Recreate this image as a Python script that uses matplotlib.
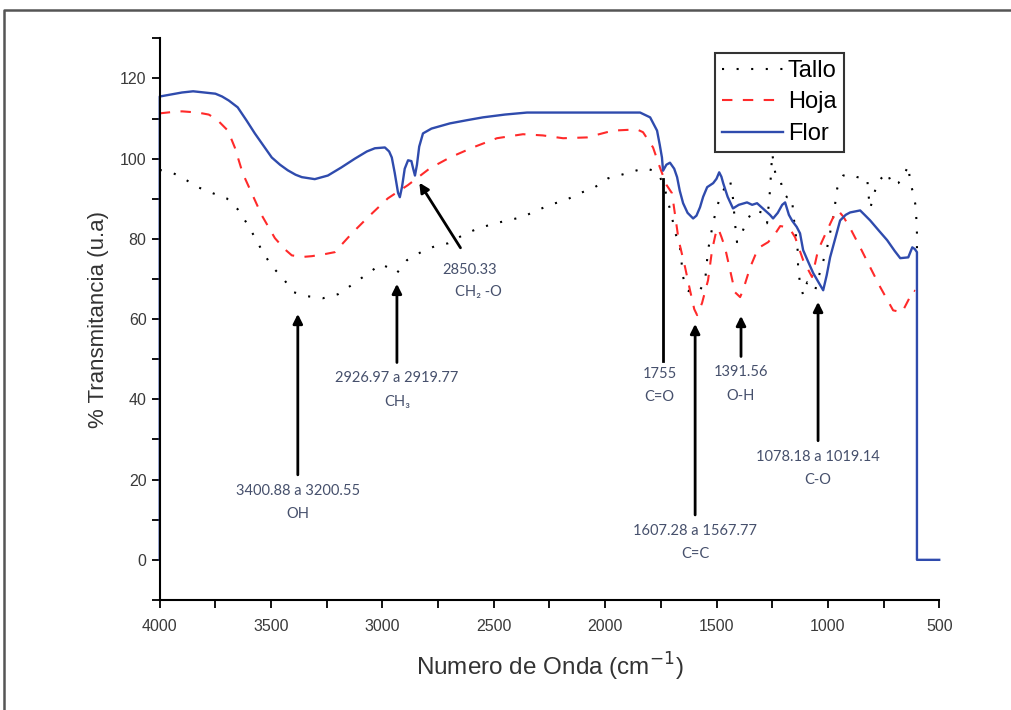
import numpy as np
import matplotlib
matplotlib.use("Agg")
import matplotlib.pyplot as plt
from matplotlib.ticker import MultipleLocator
from matplotlib.lines import Line2D

plt.rcParams['font.family'] = ['Liberation Sans', 'DejaVu Sans']

flor_x = [4000, 4000, 3950, 3900, 3850, 3800, 3750, 3720, 3690, 3650, 3610, 3573, 3535, 3497, 3460,
          3425, 3390, 3362, 3304, 3245, 3185, 3124, 3070, 3034, 2989, 2970, 2958, 2945, 2930, 2922,
          2912, 2900, 2885, 2870, 2862, 2854, 2845, 2835, 2818, 2780, 2697, 2620, 2549, 2450, 2351,
          2200, 2000, 1843, 1798, 1767, 1755, 1745, 1740, 1725, 1709, 1690, 1677, 1665, 1650, 1630,
          1605, 1590, 1574, 1560, 1542, 1515, 1500, 1488, 1478, 1470, 1450, 1426, 1400, 1363, 1340,
          1318, 1290, 1260, 1246, 1225, 1205, 1192, 1175, 1160, 1140, 1125, 1111, 1090, 1066, 1040,
          1021, 1005, 990, 965, 945, 920, 900, 855, 835, 810, 770, 734, 700, 675, 639, 621, 610, 600,
          600, 500]
flor_y = [0, 115.5, 116, 116.5, 116.8, 116.5, 116.2, 115.5, 114.5, 112.8, 109.5, 106.3, 103.3, 100.3, 98.5,
          97.1, 96, 95.4, 94.9, 95.8, 97.8, 100, 101.8, 102.6, 102.8, 101.8, 100.3, 96.5, 91.5, 90.4,
          93, 97.5, 99.6, 99.4, 97.5, 95.8, 98.5, 103, 106.3, 107.5, 108.8, 109.6, 110.3, 111, 111.5,
          111.5, 111.5, 111.5, 110.3, 107, 103.5, 100.3, 97, 98.5, 99, 97.5, 95.4, 92, 88.9, 86.5,
          85.1, 85.8, 87.9, 90.5, 92.9, 93.9, 95, 96.6, 95.5, 93.9, 90.5, 87.6, 88.5, 89.1, 88.5,
          88.9, 87.5, 86, 85.1, 86.5, 88.5, 89.1, 86, 84.5, 83, 81.4, 77.2, 74.5, 71.5, 69,
          67.2, 71, 75.4, 80.5, 84.6, 86, 86.6, 87.1, 86, 84.6, 82, 79.7, 77, 75.2, 75.4, 77.9, 77.5, 76.7,
          0, 0]

hoja_x = [4000, 3950, 3900, 3829, 3780, 3744, 3694, 3663, 3627, 3587, 3542, 3483, 3440, 3407, 3360,
          3317, 3260, 3214, 3137, 3065, 2976, 2886, 2787, 2697, 2594, 2486, 2369, 2280, 2189, 2082,
          1965, 1857, 1830, 1785, 1754, 1725, 1700, 1670, 1641, 1619, 1600, 1587, 1565, 1538, 1520,
          1505, 1493, 1478, 1462, 1439, 1417, 1394, 1381, 1349, 1313, 1268, 1240, 1214, 1190, 1165,
          1147, 1111, 1071, 1044, 1003, 975, 954, 930, 900, 855, 819, 765, 707, 667, 639, 617, 608]
hoja_y = [111.3, 111.6, 111.8, 111.5, 111, 109.8, 107, 102.8, 96.3, 91.4, 85.9, 80.2, 77.5, 75.9, 75.5,
          75.7, 76.2, 76.7, 81.4, 85.4, 90.1, 93.4, 97.6, 100.3, 102.8, 105.1, 106.1, 105.8, 105.1, 105.3,
          107, 107.3, 106.6, 102.8, 97.8, 93.5, 91.4, 79.7, 72.9, 67.2, 62.5, 61, 64, 69.7, 77.2,
          81, 82.7, 80.5, 77.9, 72.2, 66.7, 65.5, 67.2, 72.9, 77.7, 79.2, 81, 83.2, 83, 82,
          80.4, 74.7, 70.5, 77.2, 82.2, 85.5, 87.1, 85.5, 82.7, 77.9, 73.9, 68, 62.2, 61.7, 64.7, 67.2, 67]

tallo_x = [4000, 3946, 3879, 3829, 3762, 3699, 3650, 3609, 3573, 3542, 3497, 3447, 3398, 3335, 3268,
           3200, 3133, 3070, 3007, 2967, 2935, 2890, 2827, 2764, 2706, 2630, 2567, 2504, 2441, 2374,
           2306, 2243, 2180, 2113, 2046, 1987, 1920, 1857, 1821, 1780, 1758, 1730, 1700, 1686, 1664,
           1650, 1632, 1605, 1574, 1551, 1538, 1515, 1498, 1484, 1453, 1439, 1426, 1417, 1408, 1394,
           1363, 1336, 1296, 1273, 1260, 1250, 1235, 1214, 1201, 1183, 1161, 1156, 1134, 1134, 1125,
           1111, 1093, 1057, 1039, 1003, 976, 967, 958, 931, 904, 868, 823, 819, 810, 796,
           778, 734, 711, 684, 662, 639, 630, 617, 605, 600, 600]
tallo_y = [97.2, 96.6, 94.6, 92.9, 91.4, 90.1, 87.4, 83.9, 80.4, 77.2, 73.2, 70.2, 66.7, 65.7, 65.2,
           66.2, 68.7, 71.2, 73.7, 72.7, 71.5, 74.7, 76.7, 78.2, 78.9, 81.2, 82.7, 83.7, 84.6, 85.4,
           87.1, 88.6, 89.6, 91.4, 92.9, 95.1, 96.1, 97.1, 97.6, 97, 96.1, 92, 85.4, 81.7, 77.9,
           70.5, 67.2, 66.5, 67.2, 69.7, 77.2, 84.1, 87.9, 90.4, 93.9, 94.6, 90.1, 83.9, 79.2, 80.4,
           84.6, 87.1, 86.6, 83.9, 92, 101.3, 96, 95.1, 91.4, 90.4, 90.4, 86.6, 76.4, 72.7, 69,
           66, 69.2, 67.2, 71, 77.9, 85.4, 88.9, 92.6, 95.8, 96.1, 95.4, 95.1, 91.6, 87.6, 90.4,
           94.1, 96.6, 93.4, 93.9, 95.4, 98.3, 94.1, 91.4, 88, 81.4, 77.7]

# anotaciones: (x flecha, y cola, y punta, texto)
ann_x = [3380, 2935, 1596, 1390, 1044]
ann_tail = [20.5, 48.5, 10.5, 50, 29]
ann_head = [62, 69.5, 59.5, 61.5, 65]
ann_l1 = ["3400.88 a 3200.55", "2926.97 a 2919.77", "1607.28 a 1567.77", "1391.56", "1078.18 a 1019.14"]
ann_l2 = ["OH", "CH\u2083", "C=C", "O-H", "C-O"]

fig = plt.figure(figsize=(10.11, 7.10), dpi=100)
ax = fig.add_axes([0.158, 0.155, 0.771, 0.791])

ax.plot(tallo_x, tallo_y, color='black', lw=1.5, linestyle=(0, (1, 6)), label='Tallo', clip_on=False)
ax.plot(hoja_x, hoja_y, color='#ff2a2a', lw=1.5, linestyle=(0, (5, 5)), label='Hoja', clip_on=False)
ax.plot(flor_x, flor_y, color='#2f4bad', lw=1.7, label='Flor', clip_on=False)

ax.set_xlim(4000, 500)
ax.set_ylim(-10, 130)
ax.set_xticks(np.arange(4000, 499, -500))
ax.xaxis.set_minor_locator(MultipleLocator(250))
ax.set_yticks(np.arange(0, 121, 20))
ax.yaxis.set_minor_locator(MultipleLocator(10))
ax.tick_params(which='both', direction='out', length=6, width=1.3, colors='black',
               labelcolor='#3a3a3a', labelsize=11.5)
ax.tick_params(axis='x', pad=8)
for s in ['top', 'right']:
    ax.spines[s].set_visible(False)
for s in ['left', 'bottom']:
    ax.spines[s].set_linewidth(1.5)

ax.set_xlabel('Numero de Onda (cm$^{-1}$)', fontsize=17.5, color='#333333', labelpad=12)
ax.set_ylabel('% Transmitancia (u.a)', fontsize=16, color='#333333', labelpad=8)

leg = ax.legend(loc='upper left', bbox_to_anchor=(0.712, 0.974), fontsize=17, frameon=True,
                fancybox=False, edgecolor='black', handlelength=2.6, handletextpad=0.2,
                labelspacing=0.4, borderpad=0.3, borderaxespad=0)
leg.get_frame().set_linewidth(1.5)

tcol = '#46506c'
tfont = ['Lato', 'DejaVu Sans']
for xa, yt, yh, l1, l2 in zip(ann_x, ann_tail, ann_head, ann_l1, ann_l2):
    ax.annotate('', xy=(xa, yh), xytext=(xa, yt),
                arrowprops=dict(arrowstyle='-|>', color='black', lw=2, mutation_scale=14))
    ax.text(xa, yt - 1.5, l1, ha='center', va='top', fontsize=10.5, color=tcol, family=tfont)
    ax.text(xa, yt - 7.3, l2, ha='center', va='top', fontsize=10.5, color=tcol, family=tfont)

# 2850.33 flecha inclinada
ax.annotate('', xy=(2841, 94.6), xytext=(2643, 77.2),
            arrowprops=dict(arrowstyle='-|>', color='black', lw=2, mutation_scale=14))
ax.text(2610, 74, '2850.33', ha='center', va='top', fontsize=10.5, color=tcol, family=tfont)
ax.text(2570, 68.5, 'CH\u2082 -O', ha='center', va='top', fontsize=10.5, color=tcol, family=tfont)

# 1755 linea sin punta
ax.plot([1740, 1740], [95, 49.5], color='black', lw=2)
ax.text(1755, 48, '1755', ha='center', va='top', fontsize=10.5, color=tcol, family=tfont)
ax.text(1755, 42.3, 'C=O', ha='center', va='top', fontsize=10.5, color=tcol, family=tfont)

# marco de la figura (solo izquierda y arriba visibles)
fx, fy = 4 / 1011, 1 - 10 / 710
fig.lines.append(Line2D([fx, fx, 1.0], [0.0, fy, fy], transform=fig.transFigure,
                        color='#555555', lw=1.8))

fig.savefig('out.png', dpi=100)
